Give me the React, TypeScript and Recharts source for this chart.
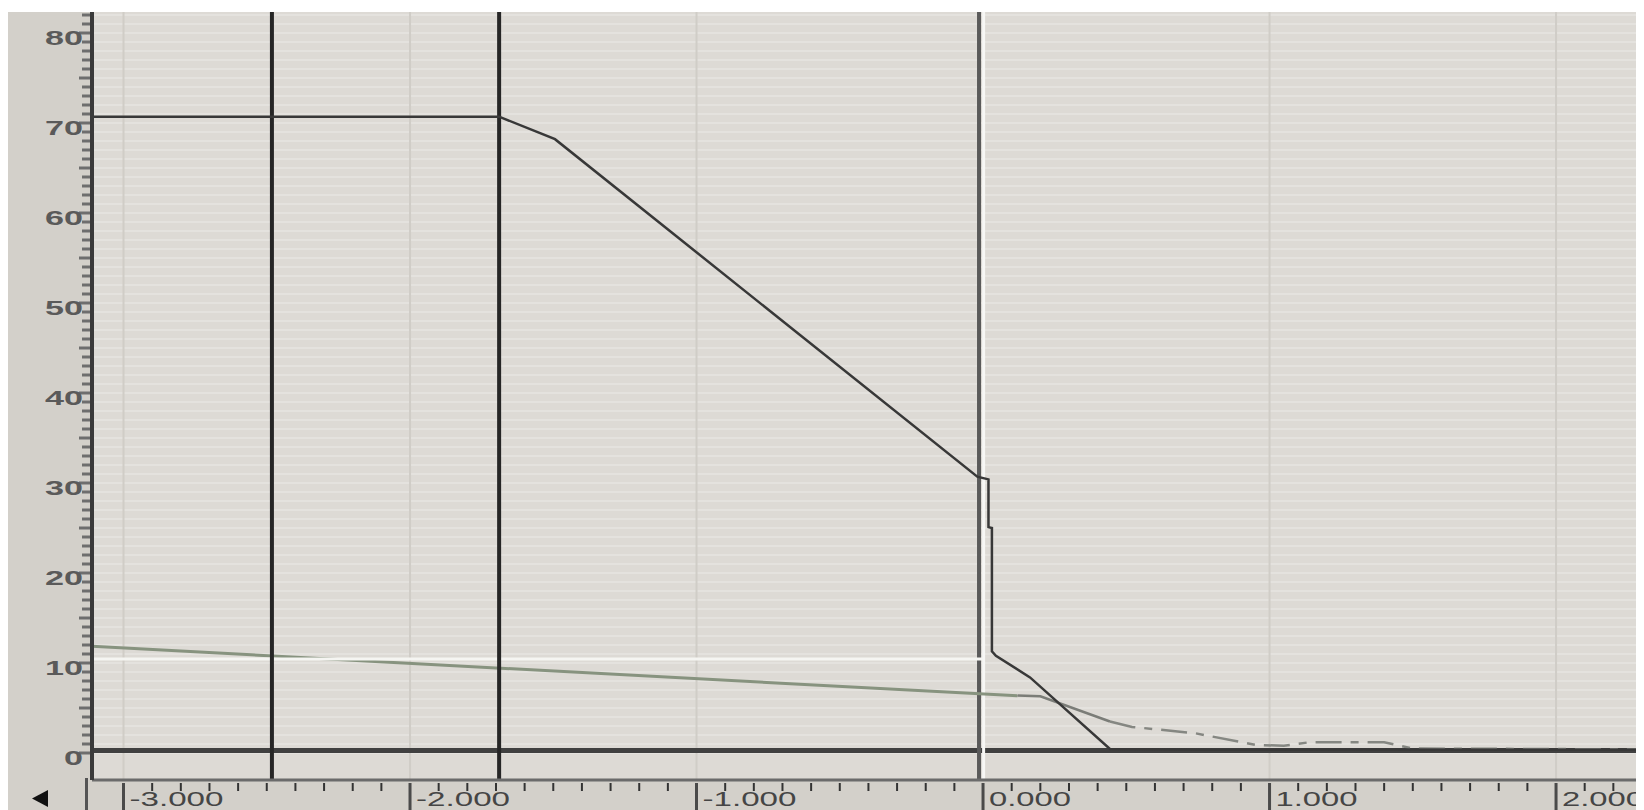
import React from "react";
import { LineChart, Line, XAxis, YAxis, CartesianGrid } from "recharts";

// ---- axis ranges ----
const X_MIN = -3.11;
const X_MAX = 2.307;
const Y_MIN = -3;
const Y_MAX = 82.333;

// ---- tick labels ----
const xMajorTicks = [-3, -2, -1, 0, 1, 2];
const xTickLabels = ["-3.000", "-2.000", "-1.000", "0.000", "1.000", "2.000"];
const xMinorStep = 0.1;
const yLabelValues = [0, 10, 20, 30, 40, 50, 60, 70, 80];
const yMinorStep = 1;

// ---- series: dark trace ----
const darkX = [-3.11, -1.689, -1.494, -0.02, 0.019, 0.019, 0.031, 0.031, 0.045, 0.164, 0.443, 0.8, 1.3, 2.307];
const darkY = [70.7, 70.7, 68.2, 30.7, 30.4, 25.1, 25.0, 11.3, 10.8, 8.4, 0.45, 0.35, 0.4, 0.35];

// ---- series: green trace ----
const greenX = [-3.11, 0.12];
const greenY = [11.85, 6.35];

// ---- series: gray trace (continuation) ----
const graySolidX = [0.12, 0.2, 0.443];
const graySolidY = [6.4, 6.3, 3.5];
const grayDashX = [0.443, 0.52, 0.74, 0.95, 1.05, 1.14, 1.4, 1.5, 2.307];
const grayDashY = [3.5, 2.9, 2.2, 0.9, 0.8, 1.2, 1.2, 0.5, 0.4];

// ---- cursors ----
const blackCursorX = [-2.482, -1.689];
const activeCursorX = -0.014;
const activeCursorHighlightX = 0.002;
const baseCursorY = 0.28;
const whiteCursorY = 10.45;
const whiteCursorEndX = 0.0;

const PANEL = "#d3d0ca";
const PLOT_BG = "#dddad5";
const FONT = "'Liberation Sans', Arial, sans-serif";

const zip = (xs: number[], ys: number[]) => xs.map((x, i) => ({ x, y: ys[i] }));

const xTicks: number[] = [];
for (let i = Math.round(-3.0 / xMinorStep); i <= Math.round(2.3 / xMinorStep); i++) {
  xTicks.push(Math.round(i * xMinorStep * 10) / 10);
}
const yTicks: number[] = [];
for (let v = 0; v <= 82; v += yMinorStep) yTicks.push(v);

const vLine = (x: number) => [
  { x, y: Y_MIN },
  { x, y: Y_MAX },
];
const hLine = (y: number, x1 = X_MIN, x2 = X_MAX) => [
  { x: x1, y },
  { x: x2, y },
];

const XTick = (props: any) => {
  const { x, y, payload } = props;
  const v = payload.value as number;
  const idx = xMajorTicks.findIndex((m) => Math.abs(m - v) < 1e-6);
  if (idx >= 0) {
    const label = xTickLabels[idx];
    return (
      <g>
        <line x1={x} x2={x} y1={y + 3} y2={y + 32} stroke="#4a4a4a" strokeWidth={3} />
        <text
          x={x + 6}
          y={y + 25.5}
          fontSize={20}
          fontFamily={FONT}
          fill="#454545"
          textLength={v < 0 ? 94 : 82}
          lengthAdjust="spacingAndGlyphs"
        >
          {label}
        </text>
      </g>
    );
  }
  return <line x1={x} x2={x} y1={y + 3} y2={y + 11} stroke="#333" strokeWidth={2} />;
};

const YTick = (props: any) => {
  const { x, y, payload } = props;
  const v = payload.value as number;
  const isLabel = yLabelValues.includes(v);
  const len = v % 5 === 0 ? 13 : 10;
  return (
    <g>
      <line x1={x - len} x2={x - 2} y1={y} y2={y} stroke="#6e6e6e" strokeWidth={3} />
      {isLabel && (
        <text
          x={x - 9}
          y={y + 5}
          dy="0.35em"
          textAnchor="end"
          fontSize={21}
          fontWeight="bold"
          fontFamily={FONT}
          fill="#5a5a5a"
          textLength={19 * String(v).length}
          lengthAdjust="spacingAndGlyphs"
        >
          {v}
        </text>
      )}
    </g>
  );
};

const common = {
  type: "linear" as const,
  dataKey: "y",
  dot: false,
  activeDot: false,
  isAnimationActive: false,
  legendType: "none" as const,
};

export default function App() {
  return (
    <div style={{ paddingTop: 4 }}>
      <style>{`html,body{overflow:hidden}`}</style>
      <div style={{ position: "relative", width: 1636, height: 798, background: PANEL }}>
        <LineChart width={1636} height={798} margin={{ top: 0, right: 0, bottom: 0, left: 0 }}>
          <CartesianGrid
            fill={PLOT_BG}
            vertical={false}
            horizontalValues={yTicks}
            stroke="#e6e4e0"
            strokeWidth={1.5}
          />
          <CartesianGrid
            horizontal={false}
            verticalValues={xMajorTicks}
            stroke="#d0cdc7"
            strokeWidth={2}
          />
          <XAxis
            type="number"
            dataKey="x"
            domain={[X_MIN, X_MAX]}
            allowDataOverflow
            ticks={xTicks}
            interval={0}
            height={30}
            tickSize={0}
            tickMargin={0}
            tickLine={false}
            axisLine={{ stroke: "#6b6b6b", strokeWidth: 3 }}
            tick={<XTick />}
          />
          <YAxis
            type="number"
            domain={[Y_MIN, Y_MAX]}
            allowDataOverflow
            ticks={yTicks}
            interval={0}
            width={84}
            tickSize={0}
            tickMargin={0}
            tickLine={false}
            axisLine={{ stroke: "#3a3a3a", strokeWidth: 4 }}
            tick={<YTick />}
          />
          {/* baseline cursor */}
          <Line {...common} data={hLine(baseCursorY)} stroke="#404040" strokeWidth={5} />
          {/* active vertical cursor */}
          <Line {...common} data={vLine(activeCursorX)} stroke="#5a5a5a" strokeWidth={4} />
          <Line {...common} data={vLine(activeCursorHighlightX)} stroke="#f7f7f5" strokeWidth={3} />
          {/* green trace */}
          <Line {...common} data={zip(greenX, greenY)} stroke="#87937f" strokeWidth={3} />
          {/* white horizontal cursor */}
          <Line {...common} data={hLine(whiteCursorY, X_MIN, whiteCursorEndX)} stroke="#f5f5f2" strokeWidth={3} />
          {/* black vertical cursors */}
          {blackCursorX.map((cx) => (
            <Line key={cx} {...common} data={vLine(cx)} stroke="#262626" strokeWidth={4} />
          ))}
          {/* gray trace */}
          <Line {...common} data={zip(graySolidX, graySolidY)} stroke="#7b7d78" strokeWidth={2.5} />
          <Line
            {...common}
            data={zip(grayDashX, grayDashY)}
            stroke="#858782"
            strokeWidth={2.5}
            strokeDasharray="26 9 8 9"
          />
          {/* dark trace */}
          <Line {...common} data={zip(darkX, darkY)} stroke="#383838" strokeWidth={2.5} />
        </LineChart>
        <svg
          width={84}
          height={798}
          style={{ position: "absolute", left: 0, top: 0, pointerEvents: "none" }}
        >
          <line x1={78.5} x2={78.5} y1={766} y2={798} stroke="#555" strokeWidth={3} />
          <polygon points="24,786.5 40,778 40,795" fill="#111" />
        </svg>
      </div>
    </div>
  );
}
